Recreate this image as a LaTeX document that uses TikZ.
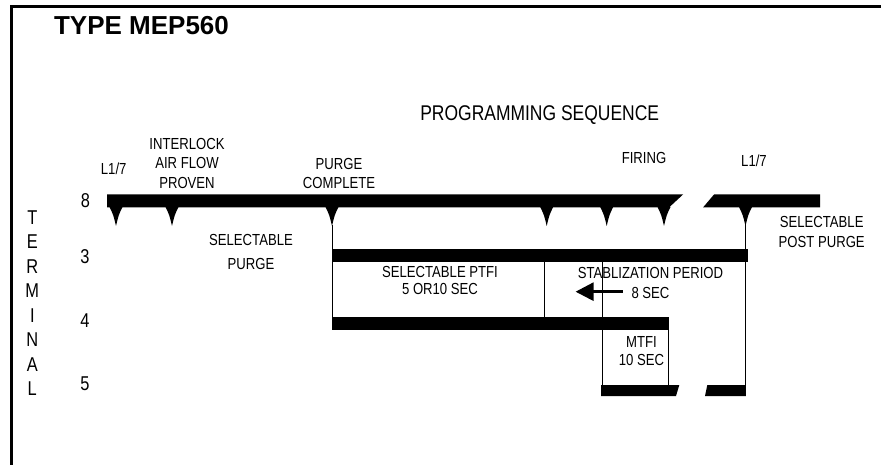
\documentclass[tikz,border=0pt]{standalone}
\usepackage{fontspec}
\setmainfont{Liberation Sans}
\newfontfamily\nar[FakeStretch=0.82]{Liberation Sans}
\newfontfamily\hv{Liberation Sans}
\begin{document}
\begin{tikzpicture}[x=1pt,y=-1pt,
  lbl/.style={font=\nar\fontsize{16}{19.5}\selectfont, inner sep=0pt, align=center},
  num/.style={font=\nar\fontsize{20}{24}\selectfont, inner sep=0pt},
  bar/.style={fill=black},
  vline/.style={draw=black, line width=0.9pt}]
\useasboundingbox (0,0) rectangle (881,465);
% frame
\draw[line width=2.7pt] (11.4,465) -- (11.4,6.3) -- (881,6.3);
% title
\node[font=\hv\bfseries\fontsize{26}{30}\selectfont, inner sep=0pt] (title) at (141.5,25.8) {TYPE MEP560};
\node[font=\nar\fontsize{21.3}{25}\selectfont, inner sep=0pt] (prog) at (539.7,115.5) {PROGRAMMING SEQUENCE};
% labels top
\node[lbl] (l17a) at (113.7,168.7) {L1/7};
\node[lbl] (interlock) at (187,163.3) {INTERLOCK\\AIR FLOW\\PROVEN};
\node[lbl, font=\nar\fontsize{16}{19}\selectfont] (purgec) at (339,173.4) {PURGE\\COMPLETE};
\node[lbl] (firing) at (644,158.3) {FIRING};
\node[lbl] (l17b) at (754,161) {L1/7};
\node[lbl, font=\nar\fontsize{16}{20}\selectfont] (postpurge) at (821.7,231.7) {SELECTABLE\\POST PURGE};
\node[lbl, font=\nar\fontsize{16}{23.5}\selectfont] (selpurge) at (251,251.8) {SELECTABLE\\PURGE};
\node[lbl, font=\nar\fontsize{16}{17.8}\selectfont] (ptfi) at (440,280.5) {SELECTABLE PTFI\\5 OR10 SEC};
\node[lbl, font=\nar\fontsize{16}{20}\selectfont] (stab) at (650.5,282.5) {STABLIZATION PERIOD\\8 SEC};
\node[lbl, font=\nar\fontsize{16}{18}\selectfont] (mtfi) at (641.5,351.5) {MTFI\\10 SEC};
% terminal column
\node[num, align=center, font=\nar\fontsize{20}{24.5}\selectfont] (terminal) at (32.3,303.3) {T\\E\\R\\M\\I\\N\\A\\L};
\node[num] (t8) at (85.5,200.5) {8};
\node[num] (t3) at (85,256.7) {3};
\node[num] (t4) at (85,320.7) {4};
\node[num] (t5) at (85,383.5) {5};
% bars
\fill[bar] (107,194.5) -- (683,194.5) -- (669,207.5) -- (107,207.5) -- cycle;
\fill[bar] (714,194.5) -- (820,194.5) -- (820,207.5) -- (703,207.5) -- cycle;
\fill[bar] (332,249) rectangle (747.6,261.7);
\fill[bar] (331.7,317.3) rectangle (669,330);
\fill[bar] (601,385) -- (679.3,385) -- (676,396) -- (601,396) -- cycle;
\fill[bar] (707.3,385) -- (745.8,385) -- (745.8,396) -- (705,396) -- cycle;
% spikes
\foreach \x in {116,172,332,546.7,606.7,664,745.5}{
  \fill (\x-6.5,207) .. controls (\x-2.6,215) .. (\x,226) .. controls (\x+2.6,215) .. (\x+6.5,207) -- cycle;
}
% coordinates of vertical lines
\coordinate (pa) at (332,225);   \coordinate (pb) at (332,330);
\coordinate (sa) at (544.3,261); \coordinate (sb) at (544.3,318);
\coordinate (fa) at (602.3,261); \coordinate (fb) at (602.3,386);
\coordinate (ma) at (668,329);   \coordinate (mb) at (668,386);
\coordinate (la) at (745.5,225); \coordinate (lb) at (745.5,396);
\draw[vline] (pa) -- (pb);
\draw[vline] (sa) -- (sb);
\draw[vline] (fa) -- (fb);
\draw[vline] (ma) -- (mb);
\draw[vline] (la) -- (lb);
% arrow
\coordinate (atip) at (575.7,291.7);
\coordinate (atail) at (623.3,291.7);
\fill (atip) -- (593.5,282.3) -- (593.5,301) -- cycle;
\draw[line width=3.5pt] (593,291.7) -- (atail);
\end{tikzpicture}
\end{document}
